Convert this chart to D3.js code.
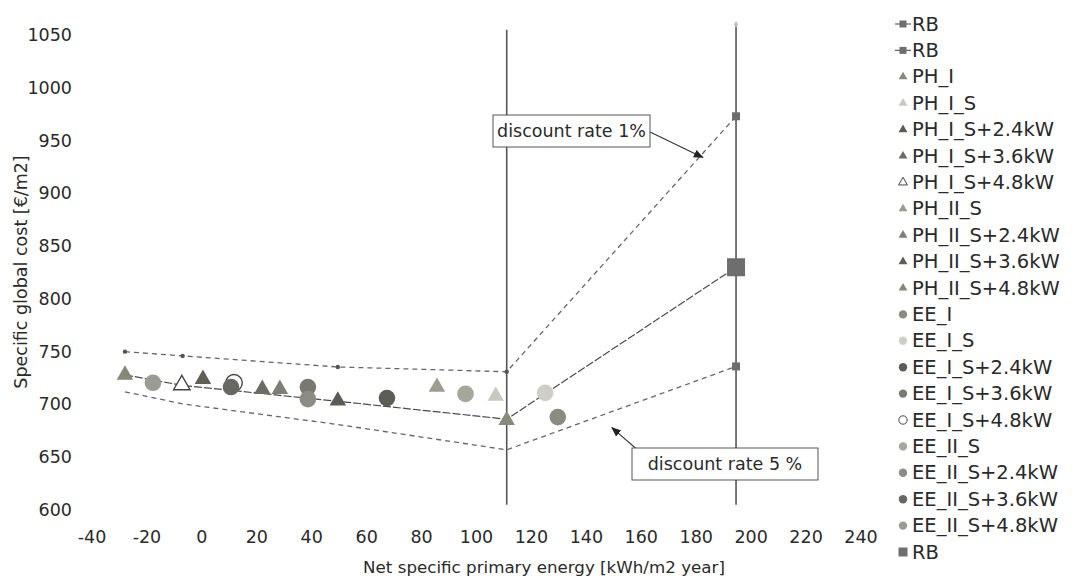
<!DOCTYPE html>
<html>
<head>
<meta charset="utf-8">
<script src="https://cdn.jsdelivr.net/npm/d3@7"></script>
<style>
  body { margin: 0; background: #fff; }
  text { font-family: "DejaVu Sans", Verdana, sans-serif; fill: #2a2a2a; }
</style>
</head>
<body>
<div id="chart"></div>
<script>
const width = 1085;
const height = 578;

// axis ticks
const xTicks = [-40, -20, 0, 20, 40, 60, 80, 100, 120, 140, 160, 180, 200, 220, 240];
const yTicks = [600, 650, 700, 750, 800, 850, 900, 950, 1000, 1050];

// cost curves (same energy steps for every discount rate)
const curveEnergy = [-28, -7, 49.5, 111, 194.5];
const rate1Cost = [750, 746, 735.5, 731, 973];
const rate3Cost = [728, 718, 703, 686, 830];
const rate5Cost = [712, 700.5, 681, 657, 736];

// vertical reference lines
const refEnergy = [111, 194.5];
const refTop = [1055, 1060];
const refBottom = [605, 605];

// passive house packages
const phNames = ["PH_I", "PH_I_S", "PH_I_S+2.4kW", "PH_I_S+3.6kW", "PH_I_S+4.8kW",
  "PH_II_S", "PH_II_S+2.4kW", "PH_II_S+3.6kW", "PH_II_S+4.8kW"];
const phEnergy = [111, 107, 49.5, 22, -7.3, 85.6, 28.4, 0.4, -28];
const phCost = [685, 708, 703.5, 714.5, 718.5, 716.5, 714.5, 724, 728];

// energy efficiency packages
const eeNames = ["EE_I", "EE_I_S", "EE_I_S+2.4kW", "EE_I_S+3.6kW", "EE_I_S+4.8kW",
  "EE_II_S", "EE_II_S+2.4kW", "EE_II_S+3.6kW", "EE_II_S+4.8kW"];
const eeEnergy = [129.6, 125, 67.4, 38.6, 11.7, 96, 38.6, 10.6, -17.8];
const eeCost = [688, 711, 706, 716.5, 720.5, 710, 705, 716.5, 720.5];

// marker colours (scan is greyish)
const phFill = ["#868a78", "#c9c9bf", "#5b5b55", "#6c6c66", "#ffffff", "#9c9c8c", "#7e7e74", "#5f5f58", "#878775"];
const eeFill = ["#8b8c80", "#cfcfc6", "#5d5d58", "#797973", "#ffffff", "#a6a69b", "#8c8c84", "#676763", "#9b9b92"];

const svg = d3.select("#chart").append("svg")
  .attr("width", width)
  .attr("height", height);

const x = d3.scaleLinear().domain([-40, 240]).range([92, 861]);
const y = d3.scaleLinear().domain([600, 1050]).range([510, 35]);

// arrow head
svg.append("defs").append("marker")
  .attr("id", "arrow")
  .attr("viewBox", "0 0 10 10")
  .attr("refX", 9).attr("refY", 5)
  .attr("markerWidth", 9).attr("markerHeight", 9)
  .attr("orient", "auto")
  .append("path")
  .attr("d", "M0,1 L10,5 L0,9 Z")
  .attr("fill", "#222");

// tick labels (no axis lines in the original)
svg.append("g").selectAll("text")
  .data(xTicks)
  .join("text")
  .attr("x", d => x(d))
  .attr("y", 537)
  .attr("text-anchor", "middle")
  .attr("dominant-baseline", "central")
  .style("font-size", "17.5px")
  .text(d => d);

svg.append("g").selectAll("text")
  .data(yTicks)
  .join("text")
  .attr("x", 72)
  .attr("y", d => y(d))
  .attr("text-anchor", "end")
  .attr("dominant-baseline", "central")
  .style("font-size", "17.5px")
  .text(d => d);

// axis titles
svg.append("text")
  .attr("x", 544).attr("y", 567)
  .attr("text-anchor", "middle")
  .attr("dominant-baseline", "central")
  .style("font-size", "16.7px")
  .text("Net specific primary energy [kWh/m2 year]");

svg.append("text")
  .attr("transform", "translate(21,272) rotate(-90)")
  .attr("text-anchor", "middle")
  .attr("dominant-baseline", "central")
  .style("font-size", "17.5px")
  .text("Specific global cost [€/m2]");

// vertical reference lines
svg.append("g").selectAll("line")
  .data(refEnergy)
  .join("line")
  .attr("x1", d => x(d)).attr("x2", d => x(d))
  .attr("y1", (d, i) => y(refTop[i]))
  .attr("y2", (d, i) => y(refBottom[i]))
  .attr("stroke", "#555")
  .attr("stroke-width", 1.6);

svg.append("path")
  .attr("d", d3.symbol(d3.symbolDiamond, 14)())
  .attr("transform", `translate(${x(refEnergy[1])},${y(refTop[1])})`)
  .attr("fill", "#bbb");

// curves
const line = d3.line()
  .x((d, i) => x(curveEnergy[i]))
  .y(d => y(d));

svg.append("path")
  .attr("d", line(rate1Cost))
  .attr("fill", "none")
  .attr("stroke", "#666")
  .attr("stroke-width", 1.3)
  .attr("stroke-dasharray", "5,4");

svg.append("path")
  .attr("d", line(rate5Cost))
  .attr("fill", "none")
  .attr("stroke", "#666")
  .attr("stroke-width", 1.3)
  .attr("stroke-dasharray", "5,4");

svg.append("path")
  .attr("d", line(rate3Cost))
  .attr("fill", "none")
  .attr("stroke", "#4a4a4a")
  .attr("stroke-width", 1.2)
  .attr("stroke-dasharray", "8,2");

// small dots on the 1% curve
svg.append("g").selectAll("circle")
  .data(rate1Cost.slice(0, 4))
  .join("circle")
  .attr("cx", (d, i) => x(curveEnergy[i]))
  .attr("cy", d => y(d))
  .attr("r", 2.2)
  .attr("fill", "#555");

// RB end squares (1% and 5%)
const rbSmall = [rate1Cost[4], rate5Cost[4]];
svg.append("g").selectAll("rect")
  .data(rbSmall)
  .join("rect")
  .attr("x", x(curveEnergy[4]) - 4)
  .attr("y", d => y(d) - 4)
  .attr("width", 8).attr("height", 8)
  .attr("fill", "#6e6e6e");

// passive house triangles
const tri = d3.symbol(d3.symbolTriangle, 118);
svg.append("g").selectAll("path")
  .data(phNames)
  .join("path")
  .attr("d", tri())
  .attr("transform", (d, i) => `translate(${x(phEnergy[i])},${y(phCost[i])})`)
  .attr("fill", (d, i) => phFill[i])
  .attr("stroke", (d, i) => phFill[i] === "#ffffff" ? "#444" : "none")
  .attr("stroke-width", 1.4);

// energy efficiency circles
svg.append("g").selectAll("circle")
  .data(eeNames)
  .join("circle")
  .attr("cx", (d, i) => x(eeEnergy[i]))
  .attr("cy", (d, i) => y(eeCost[i]))
  .attr("r", 8.3)
  .attr("fill", (d, i) => eeFill[i] === "#ffffff" ? "none" : eeFill[i])
  .attr("stroke", (d, i) => eeFill[i] === "#ffffff" ? "#444" : "none")
  .attr("stroke-width", 1.4);

// big RB square (3% curve end)
svg.append("rect")
  .attr("x", x(curveEnergy[4]) - 9)
  .attr("y", y(rate3Cost[4]) - 9)
  .attr("width", 18).attr("height", 18)
  .attr("fill", "#6e6e6e");

// annotations
function note(label, bx, by, bw, tipE, tipC, fromX, fromY) {
  const g = svg.append("g");
  g.append("line")
    .attr("x1", fromX).attr("y1", fromY)
    .attr("x2", x(tipE)).attr("y2", y(tipC))
    .attr("stroke", "#333")
    .attr("stroke-width", 1.1)
    .attr("marker-end", "url(#arrow)");
  g.append("rect")
    .attr("x", bx).attr("y", by)
    .attr("width", bw).attr("height", 32)
    .attr("fill", "#fff")
    .attr("stroke", "#555")
    .attr("stroke-width", 1);
  g.append("text")
    .attr("x", bx + bw / 2).attr("y", by + 16)
    .attr("text-anchor", "middle")
    .attr("dominant-baseline", "central")
    .style("font-size", "17.5px")
    .text(label);
}
note("discount rate 1%", 493, 115, 157, 182.4, 934, 648, 131);
note("discount rate 5 %", 632, 448, 186, 149.3, 678, 640, 452);

// legend
const legendNames = ["RB", "RB"].concat(phNames, eeNames, ["RB"]);
const legend = svg.append("g");
legendNames.forEach((name, i) => {
  const ly = 24 + i * 26.4;
  const g = legend.append("g").attr("transform", `translate(903,${ly})`);
  if (i < 2) {
    g.append("line").attr("x1", -8).attr("x2", 8).attr("stroke", "#666").attr("stroke-width", 1.3);
    g.append("rect").attr("x", -3.5).attr("y", -3.5).attr("width", 7).attr("height", 7).attr("fill", "#6e6e6e");
  } else if (i < 11) {
    const c = phFill[i - 2];
    g.append("path").attr("d", d3.symbol(d3.symbolTriangle, 34)())
      .attr("fill", c).attr("stroke", c === "#ffffff" ? "#444" : "none");
  } else if (i < 20) {
    const c = eeFill[i - 11];
    g.append("circle").attr("r", 4.2)
      .attr("fill", c === "#ffffff" ? "#fff" : c)
      .attr("stroke", c === "#ffffff" ? "#444" : "none");
  } else {
    g.append("rect").attr("x", -4.5).attr("y", -4.5).attr("width", 9).attr("height", 9).attr("fill", "#6e6e6e");
  }
  g.append("text")
    .attr("x", 9)
    .attr("dominant-baseline", "central")
    .style("font-size", "19.5px")
    .text(name);
});
</script>
</body>
</html>
